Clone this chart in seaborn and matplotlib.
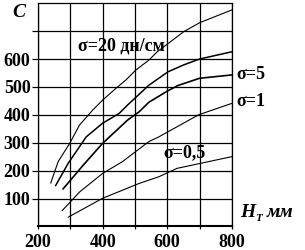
import numpy as np
import pandas as pd
import matplotlib
matplotlib.use("Agg")
import matplotlib.pyplot as plt
import seaborn as sns

# curves (H_T in mm, C)
s20_h = [239, 262, 298, 328, 369, 400, 441, 472, 502, 543, 569, 651, 700, 800]
s20_c = [155, 232, 298, 363, 417, 453, 495, 525, 560, 596, 626, 698, 730, 776]

s10_h = [254, 293, 349, 400, 451, 477, 543, 602, 651, 700, 800]
s10_c = [146, 226, 321, 370, 405, 435, 506, 554, 579, 600, 626]

s5_h = [277, 340, 400, 477, 513, 543, 600, 633, 700, 800]
s5_c = [134, 220, 298, 381, 411, 445, 485, 505, 531, 543]

s1_h = [274, 330, 400, 461, 543, 574, 697, 800]
s1_c = [56, 125, 190, 232, 304, 321, 400, 441]

s05_h = [293, 400, 513, 574, 630, 800]
s05_c = [33, 101, 154, 178, 208, 250]

x_ticks = [200, 300, 400, 500, 600, 700, 800]
x_labels = ["200", "", "400", "", "600", "", "800"]
y_ticks = [100, 200, 300, 400, 500, 600, 700]
y_labels = ["100", "200", "300", "400", "500", "600", ""]

sns.set_theme(style="ticks")
plt.rcParams['font.family'] = ['Liberation Serif', 'DejaVu Serif']
plt.rcParams['font.weight'] = 'bold'
plt.rcParams['text.color'] = 'black'
plt.rcParams['xtick.color'] = 'black'
plt.rcParams['ytick.color'] = 'black'

fig = plt.figure(figsize=(3.05, 2.5), dpi=100)
ax = fig.add_axes([0.125, 0.0944, 0.635, 0.8926])

curves = [(s20_h, s20_c, 0.8), (s10_h, s10_c, 1.1), (s5_h, s5_c, 1.2),
          (s1_h, s1_c, 0.8), (s05_h, s05_c, 0.8)]
for hx, cy, lw in curves:
    sns.lineplot(x=hx, y=cy, color="black", linewidth=lw, ax=ax, sort=False)

ax.set_xlim(200, 800)
ax.set_ylim(0, 800)
ax.set_xticks(x_ticks)
ax.set_xticklabels(x_labels)
ax.set_yticks(y_ticks)
ax.set_yticklabels(y_labels)
ax.grid(True, color="black", linewidth=0.9)
for sp in ax.spines.values():
    sp.set_visible(True)
    sp.set_color("black")
    sp.set_linewidth(0.9)
ax.spines['bottom'].set_linewidth(1.5)
ax.tick_params(axis='y', length=4, width=0.9, pad=1.5, labelsize=13, colors='black')
ax.tick_params(axis='x', length=2.5, width=0.9, pad=3, labelsize=13, colors='black')
for lab in ax.get_xticklabels() + ax.get_yticklabels():
    lab.set_fontweight('bold')
    lab.set_color('black')
ax.set_xlabel("")
ax.set_ylabel("")

fs = 13
ax.text(322, 648, "σ=20 дн/см", fontsize=fs, fontweight='bold', color='black', ha='left', va='center')
ax.text(813, 546, "σ=5", fontsize=fs, fontweight='bold', color='black', ha='left', va='center', clip_on=False)
ax.text(813, 449, "σ=1", fontsize=fs, fontweight='bold', color='black', ha='left', va='center', clip_on=False)
ax.text(589, 263, "σ=0,5", fontsize=fs, fontweight='bold', color='black', ha='left', va='center')
ax.text(141, 768, "C", fontsize=14, fontweight='bold', fontstyle='italic', color='black',
        ha='center', va='center', clip_on=False)
ax.text(826, 34, "H", fontsize=14, fontweight='bold', fontstyle='italic', color='black',
        ha='left', va='baseline', clip_on=False)
ax.text(874, 18, "T", fontsize=8, fontweight='bold', fontstyle='italic', color='black',
        ha='left', va='baseline', clip_on=False)
ax.text(908, 34, "мм", fontsize=14, fontweight='bold', fontstyle='italic', color='black',
        ha='left', va='baseline', clip_on=False)

fig.savefig("out.png", dpi=100)
